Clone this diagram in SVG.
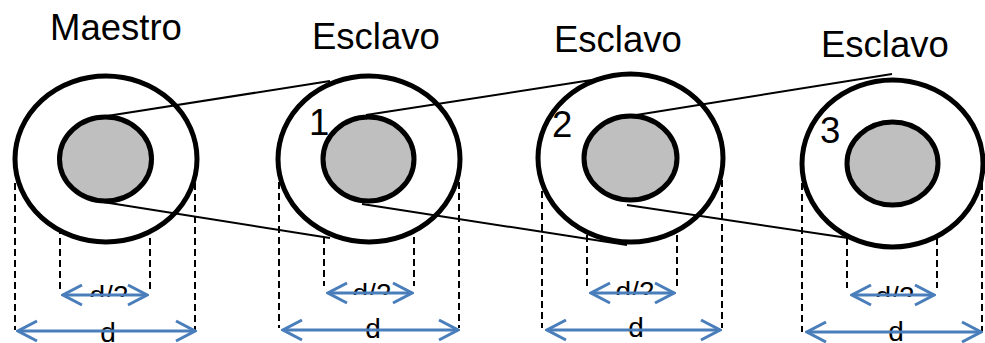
<svg xmlns="http://www.w3.org/2000/svg" width="985" height="343" viewBox="0 0 985 343">
<style>
.outer{fill:#ffffff;stroke:#000;stroke-width:5}
.inner{fill:#BFBFBF;stroke:#000;stroke-width:5}
.dash{stroke:#000;stroke-width:2;stroke-dasharray:7,4;fill:none}
.dim{stroke:#4A7EBB;stroke-width:3;fill:none;marker-start:url(#chev);marker-end:url(#chev)}
.title{font-family:"Liberation Sans",Arial,sans-serif;font-size:36.5px;fill:#000}
.lbl{font-family:"Liberation Sans",Arial,sans-serif;font-size:28px;fill:#000;text-anchor:middle}
.conn{stroke:#000;stroke-width:2;fill:none}
</style>
<defs>
<marker id="chev" viewBox="-21 -12 23 24" refX="0" refY="0" markerWidth="23" markerHeight="24" markerUnits="userSpaceOnUse" orient="auto-start-reverse">
<path d="M-19,-10 L0,0 L-19,10" fill="none" stroke="#4A7EBB" stroke-width="3"/>
</marker>
<clipPath id="c1"><rect x="0" y="0" width="985" height="297"/></clipPath>
<clipPath id="c2"><rect x="0" y="0" width="985" height="295"/></clipPath>
</defs>
<rect width="985" height="343" fill="#fff"/>

<g id="maestro">
<path class="dash" d="M15,183V330M60,183V290M150,183V290M195,183V330"/>
<ellipse class="outer" cx="106" cy="159" rx="91" ry="83"/>
<ellipse class="inner" cx="105.5" cy="159" rx="46" ry="42"/>
<text class="title" x="50" y="40">Maestro</text>
<text class="lbl" x="109" y="305" clip-path="url(#c1)">d/2</text>
<path class="dim" d="M63,295H147"/>
<text class="lbl" x="108" y="342">d</text>
<path class="dim" d="M18,331H195"/>
</g>

<g id="esclavo1">
<path class="dash" d="M279,182V328M324,182V286M414,182V286M459,182V328"/>
<ellipse class="outer" cx="369" cy="159" rx="91" ry="83"/>
<ellipse class="inner" cx="368.5" cy="159" rx="45.5" ry="42"/>
<text class="title" x="312" y="49">Esclavo</text>
<text class="title" x="309" y="135">1</text>
<text class="lbl" x="372" y="303" clip-path="url(#c2)">d/2</text>
<path class="dim" d="M328,293H412"/>
<text class="lbl" x="373" y="338">d</text>
<path class="dim" d="M283,330H458"/>
</g>

<g id="esclavo2">
<path class="dash" d="M542,180V328M587,180V287M677,180V287M722,180V328"/>
<ellipse class="outer" cx="630.5" cy="158" rx="92.5" ry="84"/>
<ellipse class="inner" cx="630.5" cy="158" rx="46.5" ry="42"/>
<text class="title" x="554" y="52">Esclavo</text>
<text class="title" x="552" y="137">2</text>
<text class="lbl" x="635" y="301" clip-path="url(#c2)">d/2</text>
<path class="dim" d="M591,293H674"/>
<text class="lbl" x="636" y="337">d</text>
<path class="dim" d="M547,330H720"/>
</g>

<g id="esclavo3">
<path class="dash" d="M802,183V332M847,183V288M937,183V288M982,183V332"/>
<ellipse class="outer" cx="892.5" cy="163.5" rx="90.5" ry="83.5"/>
<ellipse class="inner" cx="892.5" cy="163.5" rx="45.5" ry="41.5"/>
<text class="title" x="821" y="57">Esclavo</text>
<text class="title" x="820" y="143">3</text>
<text class="lbl" x="895" y="306" clip-path="url(#c1)">d/2</text>
<path class="dim" d="M852,295H934"/>
<text class="lbl" x="896" y="341">d</text>
<path class="dim" d="M807,332H981"/>
</g>

<g id="connectors">
<line class="conn" x1="107" y1="116" x2="330" y2="81"/>
<line class="conn" x1="103" y1="202" x2="330" y2="238"/>
<line class="conn" x1="366" y1="115" x2="598" y2="79"/>
<line class="conn" x1="362" y1="204" x2="627" y2="245"/>
<line class="conn" x1="630" y1="116" x2="892" y2="74"/>
<line class="conn" x1="627" y1="205" x2="848" y2="238"/>
</g>
</svg>
